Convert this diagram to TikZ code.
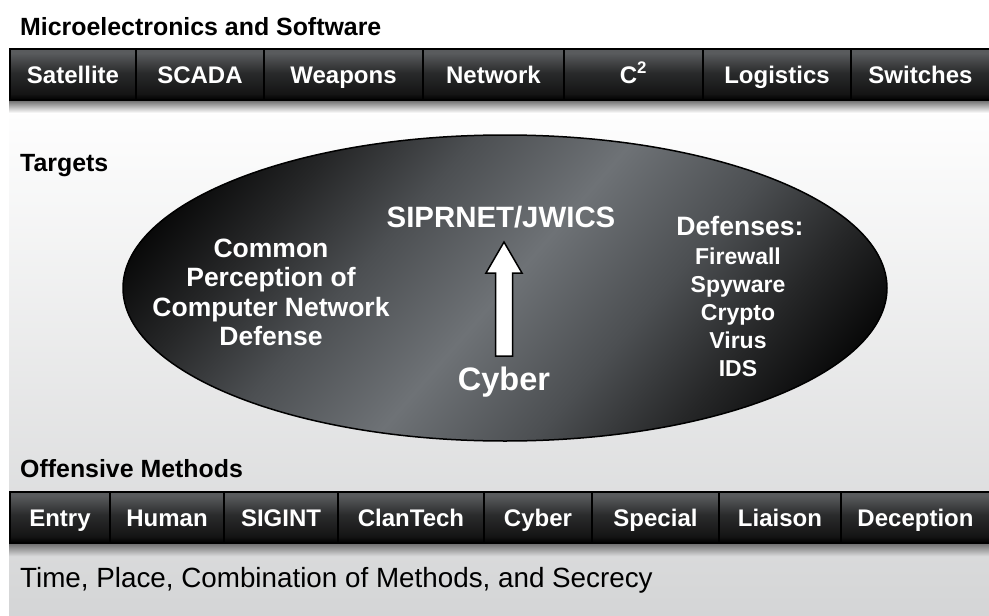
\documentclass[tikz,border=0pt]{standalone}
\usepackage{fontspec}
\setmainfont{Liberation Sans}
\usetikzlibrary{shapes.geometric}
\definecolor{panelbot}{HTML}{D4D5D6}
\definecolor{barA}{HTML}{141414}
\definecolor{barB}{HTML}{2A2B2C}
\definecolor{barC}{HTML}{595B5D}
\definecolor{shadowtop}{HTML}{6A6A6A}
\definecolor{ellA}{HTML}{6E7276}
\definecolor{ellB}{HTML}{4C4F52}
\definecolor{ellC}{HTML}{262728}
\pgfdeclareverticalshading{barshade}{100bp}{color(0bp)=(black); color(25bp)=(black); color(31bp)=(barA); color(52bp)=(barB); color(71bp)=(barC); color(75bp)=(barC); color(100bp)=(barC)}
\pgfdeclarehorizontalshading{ellshade}{100bp}{color(0bp)=(black); color(20bp)=(black); color(30bp)=(ellC); color(39bp)=(ellB); color(50bp)=(ellA); color(61bp)=(ellB); color(70bp)=(ellC); color(80bp)=(black); color(100bp)=(black)}
\tikzset{
  cell/.style={rectangle, anchor=west, shading=barshade, draw=black, line width=2pt,
    minimum height=51pt, inner sep=0pt, text=white, text height=17pt, text depth=0pt,
    font=\fontsize{24}{28}\selectfont\bfseries},
  heading/.style={anchor=base west, inner sep=0pt, font=\fontsize{24.9}{28}\selectfont\bfseries},
  eltext/.style={text=white, inner sep=0pt, align=center, font=\bfseries}
}
\begin{document}
\begin{tikzpicture}[x=1pt,y=-1pt]
\useasboundingbox (0,0) rectangle (989,616);
\fill[white] (0,0) rectangle (989,616);
% background panel
\path[top color=white, bottom color=panelbot] (9,100) rectangle (989,616);
% shadows under bars
\path[top color=shadowtop, bottom color=white] (9,100) rectangle (989,113);
\path[top color=shadowtop, bottom color=panelbot!92!white] (9,543) rectangle (989,556);

% headings
\node[heading] (h1) at (20,35) {Microelectronics and Software};
\node[heading] (h2) at (20,171) {Targets};
\node[heading] (h3) at (20,477) {Offensive Methods};
\node[anchor=base west, inner sep=0pt, font=\fontsize{27.8}{30}\selectfont] (h4) at (20,587)
  {Time, Place, Combination of Methods, and Secrecy};

% top bar
\node[cell, minimum width=126pt] (t1) at (9,74.5) {Satellite};
\node[cell, minimum width=128pt] (t2) at (135,74.5) {SCADA};
\node[cell, minimum width=159pt] (t3) at (263,74.5) {Weapons};
\node[cell, minimum width=141pt] (t4) at (422,74.5) {Network};
\node[cell, minimum width=139pt] (t5) at (563,74.5) {C\textsuperscript{2}};
\node[cell, minimum width=148pt] (t6) at (702,74.5) {Logistics};
\node[cell, minimum width=139pt] (t7) at (850,74.5) {Switches};

% bottom bar
\node[cell, minimum width=100pt, text height=18pt] (b1) at (9,517) {Entry};
\node[cell, minimum width=114pt, text height=18pt] (b2) at (109,517) {Human};
\node[cell, minimum width=114pt, text height=18pt] (b3) at (223,517) {SIGINT};
\node[cell, minimum width=146pt, text height=18pt] (b4) at (337,517) {ClanTech};
\node[cell, minimum width=108pt, text height=18pt] (b5) at (483,517) {Cyber};
\node[cell, minimum width=127pt, text height=18pt] (b6) at (591,517) {Special};
\node[cell, minimum width=122pt, text height=18pt] (b7) at (718,517) {Liaison};
\node[cell, minimum width=149pt, text height=18pt] (b8) at (840,517) {Deception};

% ellipse
\node[ellipse, minimum width=764pt, minimum height=306pt, inner sep=0pt,
      shading=ellshade, shading angle=-41, draw=black, line width=1.5pt] (ell) at (505,288) {};

% texts in ellipse
\node[eltext, anchor=base, font=\fontsize{29.4}{32}\selectfont\bfseries] (sip) at (501,227) {SIPRNET/JWICS};
\node[eltext, anchor=base, font=\fontsize{32.5}{36}\selectfont\bfseries] (cyb) at (504,390) {Cyber};
\node[eltext, anchor=center, font=\fontsize{26.5}{29.3}\selectfont\bfseries] (cpd) at (271,292.5)
  {Common\\Perception of\\Computer Network\\Defense};
\node[eltext, anchor=base, font=\fontsize{26.6}{30}\selectfont\bfseries] (def) at (740,235) {Defenses:};
\node[eltext, anchor=center, font=\fontsize{23}{28}\selectfont\bfseries] (dl) at (738,312.5)
  {Firewall\\Spyware\\Crypto\\Virus\\IDS};

% block arrow from Cyber up to SIPRNET
\draw[fill=white, line width=1.5pt]
  (495.5,356) -- (495.5,273) -- (486,273) -- (504,242) -- (522,273) -- (512.5,273) -- (512.5,356) -- cycle;
\end{tikzpicture}
\end{document}
